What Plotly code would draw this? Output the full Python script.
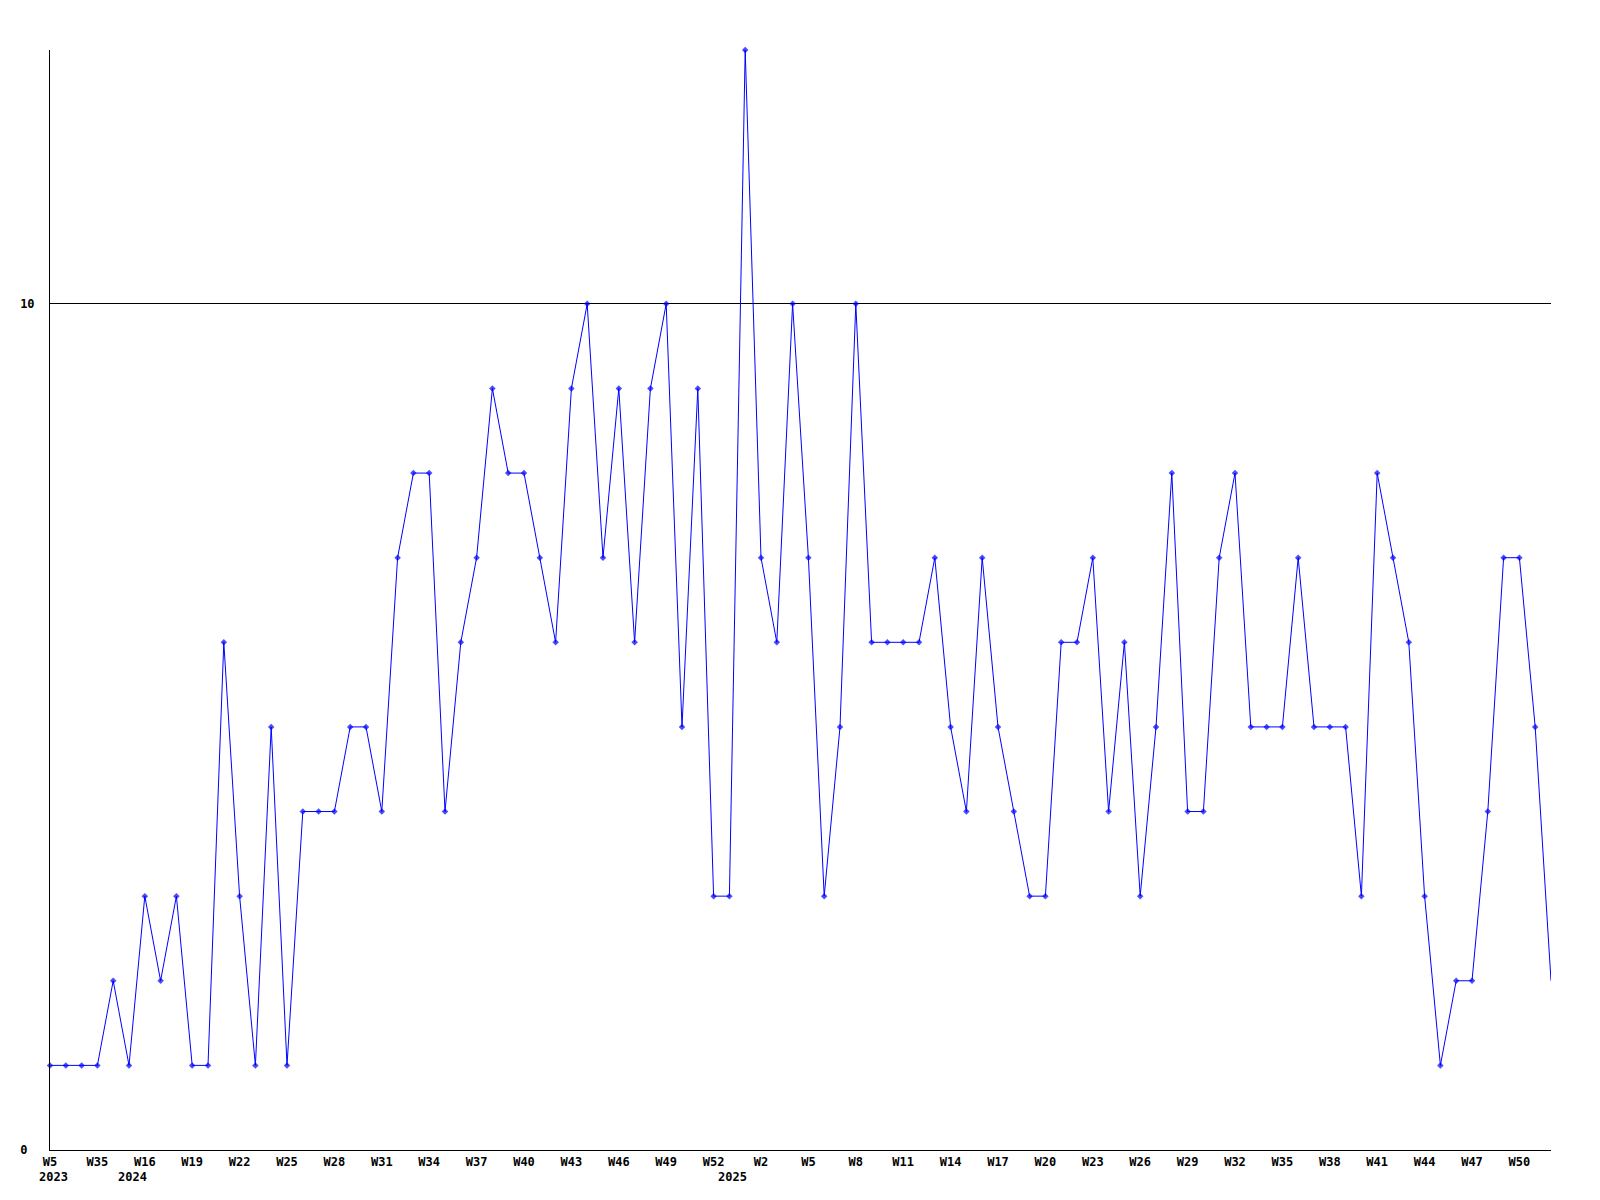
import plotly.graph_objects as go

# weekly values, one per category position (index 0..95)
values = [1, 1, 1, 1, 2, 1, 3, 2, 3, 1,
          1, 6, 3, 1, 5, 1, 4, 4, 4, 5,
          5, 4, 7, 8, 8, 4, 6, 7, 9, 8,
          8, 7, 6, 9, 10, 7, 9, 6, 9, 10,
          5, 9, 3, 3, 13, 7, 6, 10, 7, 3,
          5, 10, 6, 6, 6, 6, 7, 5, 4, 7,
          5, 4, 3, 3, 6, 6, 7, 4, 6, 3,
          5, 8, 4, 4, 7, 8, 5, 5, 5, 7,
          5, 5, 5, 3, 8, 7, 6, 3, 1, 2,
          2, 4, 7, 7, 5, 2]

# labels shown every third position
tick_labels = ["W5", "W35", "W16", "W19", "W22", "W25", "W28", "W31", "W34",
               "W37", "W40", "W43", "W46", "W49", "W52", "W2", "W5", "W8",
               "W11", "W14", "W17", "W20", "W23", "W26", "W29", "W32", "W35",
               "W38", "W41", "W44", "W47", "W50"]

# year markers: position where each year starts
year_labels = ["2023", "2024", "2025"]
year_positions = [0, 5, 43]

y_ticks = [0, 10]
y_tick_text = ["0\u00a0", "10"]

x = list(range(len(values)))
tick_step = 3
tick_vals = [i * tick_step for i in range(len(tick_labels))]

font = dict(family="DejaVu Sans Mono", size=12, color="black", weight="bold")

marker_sizes = [5] * (len(values) - 1) + [0]

fig = go.Figure()
fig.add_trace(go.Scatter(
    x=x, y=values, mode="lines+markers",
    line=dict(color="#0000ff", width=1),
    marker=dict(symbol="diamond", size=marker_sizes, color="#0000ff",
                line=dict(width=0)),
    cliponaxis=False, showlegend=False, hoverinfo="x+y",
))

for lbl, pos in zip(year_labels, year_positions):
    fig.add_annotation(x=pos, y=-0.0245, xref="x", yref="paper",
                       text=lbl, showarrow=False, xshift=3,
                       xanchor="center", yanchor="middle", font=font)

fig.update_layout(
    width=1592, height=1192,
    margin=dict(l=42, r=49, t=42, b=50, autoexpand=False),
    paper_bgcolor="white", plot_bgcolor="white",
    font=font,
    xaxis=dict(range=[0, len(values) - 1], tickvals=tick_vals, ticktext=tick_labels,
               showgrid=False, zeroline=False, showline=True, linecolor="black",
               linewidth=1, ticks="", tickfont=font, ticklabelstandoff=1),
    yaxis=dict(range=[0, 13], tickvals=y_ticks, ticktext=y_tick_text,
               showgrid=True, gridcolor="black", gridwidth=1, zeroline=False,
               showline=True, linecolor="black", linewidth=1, ticks="",
               tickfont=font, ticklabelstandoff=12),
)

fig.write_html("out.html")
